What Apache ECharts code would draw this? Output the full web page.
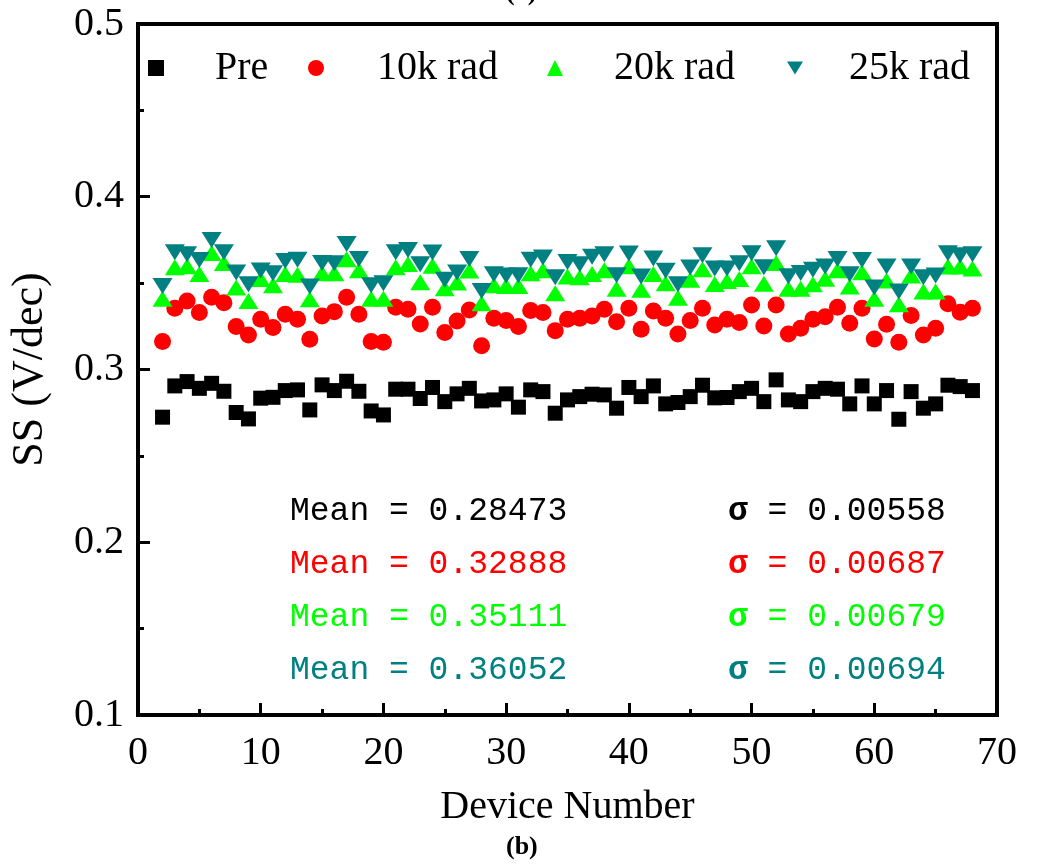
<!DOCTYPE html>
<html>
<head>
<meta charset="utf-8">
<script src="https://cdn.jsdelivr.net/npm/echarts@6/dist/echarts.min.js"></script>
<style>html,body{margin:0;padding:0;background:#fff;}#c{width:1037px;height:866px;}</style>
</head>
<body>
<div id="c"></div>
<script>
const devices = [2,3,4,5,6,7,8,9,10,11,12,13,14,15,16,17,18,19,20,21,22,23,24,25,26,27,28,29,30,31,32,33,34,35,36,37,38,39,40,41,42,43,44,45,46,47,48,49,50,51,52,53,54,55,56,57,58,59,60,61,62,63,64,65,66,67,68];
const pre = [0.2724,0.2905,0.2930,0.2891,0.2920,0.2874,0.2751,0.2714,0.2834,0.2839,0.2878,0.2882,0.2766,0.2911,0.2878,0.2932,0.2874,0.2760,0.2737,0.2886,0.2886,0.2832,0.2896,0.2814,0.2859,0.2891,0.2818,0.2824,0.2859,0.2782,0.2882,0.2872,0.2747,0.2824,0.2843,0.2857,0.2853,0.2776,0.2896,0.2843,0.2905,0.2801,0.2809,0.2843,0.2909,0.2836,0.2838,0.2872,0.2891,0.2814,0.2940,0.2824,0.2814,0.2872,0.2891,0.2886,0.2801,0.2905,0.2801,0.2878,0.2712,0.2872,0.2776,0.2801,0.2909,0.2901,0.2878];
const rad10k = [0.3162,0.3355,0.3397,0.3330,0.3418,0.3387,0.3249,0.3200,0.3291,0.3243,0.3320,0.3291,0.3175,0.3310,0.3335,0.3418,0.3320,0.3162,0.3158,0.3360,0.3349,0.3264,0.3360,0.3214,0.3281,0.3345,0.3137,0.3297,0.3283,0.3249,0.3341,0.3330,0.3225,0.3291,0.3297,0.3310,0.3349,0.3277,0.3355,0.3233,0.3339,0.3297,0.3206,0.3283,0.3355,0.3258,0.3291,0.3272,0.3374,0.3252,0.3374,0.3206,0.3239,0.3291,0.3306,0.3360,0.3268,0.3355,0.3177,0.3262,0.3158,0.3312,0.3200,0.3239,0.3380,0.3332,0.3355];
const rad20k = [0.3410,0.3592,0.3598,0.3553,0.3675,0.3617,0.3474,0.3397,0.3524,0.3488,0.3553,0.3548,0.3407,0.3557,0.3557,0.3638,0.3575,0.3410,0.3410,0.3592,0.3611,0.3505,0.3600,0.3470,0.3503,0.3573,0.3384,0.3488,0.3484,0.3484,0.3557,0.3575,0.3441,0.3538,0.3534,0.3553,0.3575,0.3468,0.3598,0.3461,0.3553,0.3499,0.3416,0.3519,0.3580,0.3495,0.3513,0.3524,0.3598,0.3497,0.3617,0.3468,0.3468,0.3494,0.3526,0.3575,0.3480,0.3563,0.3410,0.3515,0.3378,0.3544,0.3451,0.3451,0.3596,0.3596,0.3584];
const rad25k = [0.3484,0.3679,0.3667,0.3634,0.3750,0.3679,0.3561,0.3494,0.3573,0.3557,0.3628,0.3636,0.3480,0.3617,0.3615,0.3727,0.3640,0.3488,0.3499,0.3679,0.3692,0.3609,0.3677,0.3519,0.3561,0.3640,0.3455,0.3551,0.3544,0.3546,0.3636,0.3648,0.3534,0.3623,0.3609,0.3652,0.3667,0.3546,0.3671,0.3538,0.3642,0.3571,0.3494,0.3590,0.3661,0.3584,0.3584,0.3615,0.3673,0.3592,0.3702,0.3540,0.3559,0.3577,0.3596,0.3640,0.3551,0.3634,0.3474,0.3596,0.3451,0.3596,0.3534,0.3544,0.3673,0.3661,0.3667];

const seriesNames = ['Pre', '10k rad', '20k rad', '25k rad'];
const seriesColors = ['#000000', '#ff0000', '#00ff00', '#008080'];
const meanLabels = ['0.28473', '0.32888', '0.35111', '0.36052'];
const sigmaLabels = ['0.00558', '0.00687', '0.00679', '0.00694'];

const serif = '"Liberation Serif", "DejaVu Serif", serif';
const mono = '"Liberation Mono", "DejaVu Sans Mono", monospace';

function pairs(vals) { return devices.map((d, i) => [d, vals[i]]); }
const allVals = [pre, rad10k, rad20k, rad25k];
const symbols = ['rect', 'circle', 'triangle', 'path://M0,0L2,0L1,1.6Z'];
const symSizes = [[15, 15], 17, [20, 16], [20, 16]];

const chart = echarts.init(document.getElementById('c'), null, {renderer: 'canvas'});

const legendLeft = [148, 308, 547, 787];
const legendPad = [48, 50, 48, 43];

const option = {
  backgroundColor: '#ffffff',
  animation: false,
  grid: {left: 134, right: 40, top: 24, bottom: 151, show: true, borderColor: '#000', borderWidth: 4, backgroundColor: 'transparent'},
  legend: seriesNames.map((n, i) => ({
    data: [n], left: legendLeft[i], top: 46, padding: 0,
    itemWidth: 16, itemHeight: 16,
    textStyle: {fontFamily: serif, fontSize: 40, color: '#000', padding: [0, 0, 0, legendPad[i] - 2], lineHeight: 44}
  })),
  xAxis: {
    type: 'value', min: 0, max: 70, interval: 10,
    name: 'Device Number', nameLocation: 'middle', nameGap: 72,
    nameTextStyle: {fontFamily: serif, fontSize: 40, color: '#000'},
    axisLine: {show: false},
    axisTick: {show: true, inside: true, length: 12, lineStyle: {color: '#000', width: 3}},
    minorTick: {show: true, splitNumber: 2, length: 6, lineStyle: {color: '#000', width: 3}},
    splitLine: {show: false},
    axisLabel: {fontFamily: serif, fontSize: 40, color: '#000', margin: 18}
  },
  yAxis: {
    type: 'value', min: 0.1, max: 0.5, interval: 0.1,
    name: 'SS (V/dec)', nameLocation: 'middle', nameGap: 86, nameRotate: 90,
    nameTextStyle: {fontFamily: serif, fontSize: 44, color: '#000'},
    axisLine: {show: false},
    axisTick: {show: true, inside: true, length: 12, lineStyle: {color: '#000', width: 3}},
    minorTick: {show: true, splitNumber: 2, length: 6, lineStyle: {color: '#000', width: 3}},
    splitLine: {show: false},
    axisLabel: {fontFamily: serif, fontSize: 40, color: '#000', margin: 14, formatter: v => v.toFixed(1)}
  },
  series: seriesNames.map((n, i) => ({
    name: n, type: 'scatter', data: pairs(allVals[i]),
    symbol: symbols[i], symbolSize: symSizes[i],
    itemStyle: {color: seriesColors[i], opacity: 1}, z: 2 + i
  })),
  graphic: [
    ...meanLabels.map((m, i) => ({
      type: 'text', left: 290, top: 512 + i * 53 - 17,
      style: {text: 'Mean = ' + m, font: '33px ' + mono, fill: seriesColors[i]}
    })),
    ...sigmaLabels.map((s, i) => ({
      type: 'text', left: 728, top: 512 + i * 53 - 17,
      style: {
        text: '{s|σ} = ' + s, font: '33px ' + mono, fill: seriesColors[i],
        rich: {s: {fontFamily: mono, fontSize: 33, fontWeight: 'bold', fill: seriesColors[i]}}
      }
    })),
    {type: 'text', left: 506, top: 834, style: {text: '(b)', font: 'bold 26px ' + serif, fill: '#000'}},
    {type: 'text', left: 506, top: -20, style: {text: '(a)', font: 'bold 26px ' + serif, fill: '#000'}}
  ]
};
chart.setOption(option);
</script>
</body>
</html>
